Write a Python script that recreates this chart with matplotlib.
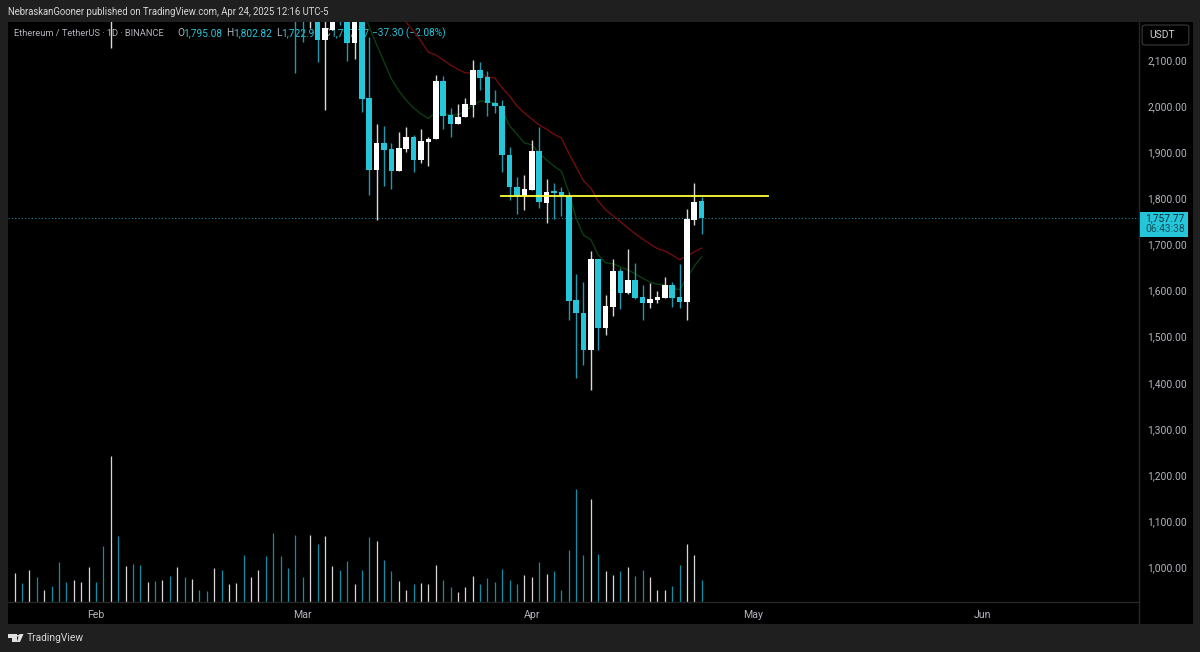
import numpy as np
import pandas as pd
import matplotlib as mp
mp.use('Agg')
import matplotlib.pyplot as pp
import matplotlib.dates as md
from matplotlib.patches import Rectangle, FancyBboxPatch, Polygon, Circle
from matplotlib.ticker import FixedLocator, FuncFormatter

mp.rcParams['font.family'] = ['Roboto', 'DejaVu Sans']

W, H = 1200, 652

dates = pd.date_range('2025-01-21', periods=94)

# 0-47 sit mostly above the visible range, only their lows show
opens = [3215, 3330, 3240, 3340, 3310, 3320, 3230, 3180, 3100, 3130,
         3250, 3300, 3120, 2860, 2880, 2730, 2790, 2690, 2620, 2660,
         2630, 2660, 2600, 2740, 2680, 2725, 2660, 2650, 2740, 2670,
         2770, 2780, 2660, 2760, 2820, 2490, 2420, 2330, 2310, 2230,
         2220, 2515, 2143, 2166, 2240, 2200, 2137, 2200, 2017, 1861,
         1921, 1907, 1860, 1908, 1934, 1883, 1923, 1928, 2054, 1981,
         1962, 1976, 2002, 2078, 2064, 2007, 2001, 1894, 1825, 1806,
         1818, 1903, 1790, 1815, 1814, 1805, 1579, 1551, 1471, 1668,
         1519, 1564, 1642, 1595, 1623, 1586, 1574, 1579, 1584, 1612,
         1586, 1576, 1753, 1795.08]
highs = [3450, 3365, 3350, 3425, 3350, 3340, 3260, 3200, 3180, 3270,
         3430, 3330, 3140, 2920, 2890, 2830, 2860, 2790, 2700, 2690,
         2720, 2690, 2790, 2795, 2740, 2740, 2680, 2760, 2760, 2780,
         2790, 2850, 2770, 2830, 2840, 2530, 2500, 2370, 2330, 2260,
         2550, 2540, 2230, 2280, 2270, 2300, 2230, 2225, 2150, 1961,
         1957, 1921, 1944, 1955, 1937, 1950, 1934, 2067, 2065, 1996,
         2005, 2018, 2101, 2095, 2076, 2035, 2013, 1912, 1847, 1851,
         1926, 1955, 1842, 1833, 1825, 1814, 1636, 1618, 1686, 1668,
         1590, 1668, 1648, 1690, 1659, 1612, 1616, 1598, 1629, 1618,
         1658, 1777, 1833, 1802.82]
lows = [3190, 3200, 3200, 3280, 3290, 3200, 3020, 3050, 3060, 3090,
        3230, 3100, 2760, 2126, 2640, 2700, 2680, 2550, 2600, 2580,
        2600, 2580, 2580, 2650, 2660, 2650, 2640, 2640, 2650, 2660,
        2740, 2650, 2640, 2750, 2450, 2300, 2300, 2240, 2072, 2140,
        2170, 2096, 1992, 2166, 2176, 2098, 2102, 1988, 1808, 1753,
        1827, 1820, 1860, 1901, 1858, 1877, 1871, 1928, 1950, 1934,
        1962, 1976, 1977, 2035, 1979, 1984, 1858, 1796, 1767, 1775,
        1818, 1780, 1747, 1755, 1762, 1536, 1410, 1438, 1384, 1471,
        1503, 1545, 1560, 1592, 1581, 1536, 1563, 1574, 1583, 1565,
        1563, 1536, 1742, 1722.96]
closes = [3330, 3240, 3340, 3310, 3320, 3230, 3180, 3100, 3130, 3250,
          3300, 3120, 2860, 2880, 2730, 2790, 2690, 2620, 2660, 2630,
          2660, 2600, 2740, 2680, 2725, 2660, 2650, 2740, 2670, 2770,
          2780, 2660, 2760, 2820, 2490, 2420, 2330, 2310, 2230, 2220,
          2515, 2143, 2169, 2240, 2200, 2137, 2200, 2015, 1861, 1921,
          1905, 1860, 1910, 1934, 1883, 1924, 1929, 2054, 1979, 1962,
          1977, 2004, 2078, 2062, 2006, 2000, 1893, 1825, 1806, 1820,
          1903, 1791, 1814, 1812, 1806, 1577, 1551, 1471, 1668, 1519,
          1566, 1642, 1595, 1623, 1584, 1574, 1581, 1586, 1612, 1584,
          1576, 1755, 1792, 1757.77]

# volume has no scale on the chart, units are arbitrary
volumes = [290, 190, 323, 247, 117, 157, 397, 197, 223, 200,
           350, 197, 557, 1457, 663, 363, 383, 373, 203, 213,
           223, 263, 350, 247, 230, 117, 110, 340, 323, 183,
           190, 470, 247, 323, 463, 690, 463, 340, 673, 247,
           670, 583, 663, 363, 317, 413, 183, 323, 650, 613,
           423, 310, 207, 117, 180, 190, 180, 373, 223, 150,
           103, 150, 263, 180, 237, 197, 333, 223, 180, 270,
           247, 397, 277, 310, 117, 517, 1130, 470, 1030, 483,
           310, 270, 310, 350, 263, 323, 247, 117, 123, 157,
           373, 583, 470, 223]

# moving averages, starting where they come into view
green_start = 47
green_ma = [2219, 2172, 2133, 2096, 2059, 2033, 2013, 1996, 1983, 1973,
            1987, 1983, 1981, 1981, 1989, 2002, 2011, 2009, 2007, 1992,
            1957, 1939, 1920, 1916, 1898, 1883, 1870, 1859, 1814, 1757,
            1720, 1710, 1677, 1660, 1658, 1651, 1645, 1636, 1627, 1618,
            1614, 1612, 1605, 1602, 1627, 1653, 1673]
red_start = 52
red_ma = [2200, 2182, 2163, 2141, 2117, 2111, 2100, 2089, 2080, 2072,
          2072, 2070, 2063, 2061, 2039, 2022, 2000, 1985, 1972, 1959,
          1950, 1939, 1931, 1898, 1868, 1838, 1822, 1794, 1775, 1762,
          1749, 1736, 1723, 1712, 1701, 1691, 1686, 1677, 1667, 1675,
          1684, 1692]

price_ticks = [1000, 1100, 1200, 1300, 1400, 1500, 1600, 1700, 1800, 1900, 2000, 2100]
last_price = 1757.77
level_price = 1805
level_dates = ['2025-03-27 20:00', '2025-05-03 00:00']

header = 'NebraskanGooner published on TradingView.com, Apr 24, 2025 12:16 UTC-5'

up_clr = '#ffffff'
dn_clr = '#26c6da'
frame = '#1f1f1f'
lab = '#b2b5be'

x = md.date2num(dates)
o = np.array(opens)
h = np.array(highs)
l = np.array(lows)
c = np.array(closes)
up = c >= o
clrs = [up_clr if u else dn_clr for u in up]
wick_clrs = ['#d8d8d8' if u else '#1f9aac' for u in up]
vol_clrs = ['#d8d8d8' if u else '#0f8fa3' for u in up]


def box(x0, y0, x1, y1):
    return [x0 / W, 1 - y1 / H, (x1 - x0) / W, (y1 - y0) / H]


def fx(px):
    return px / W


def fy(px):
    return 1 - px / H


fig = pp.figure(figsize=(12, 6.52), dpi=100, facecolor=frame)

# volume goes in its own axes under the candles
axv = fig.add_axes(box(8, 22, 1139, 602), facecolor='black', zorder=0)
ax = fig.add_axes(box(8, 22, 1139, 602), zorder=2)
ax.patch.set_visible(False)
axt = fig.add_axes(box(8, 602, 1139, 623.5), facecolor='black', zorder=1)
axp = fig.add_axes(box(1139, 22, 1192.5, 623.5), facecolor='black', zorder=1)
axp.set_xticks([])
axp.set_yticks([])

xlim = (x[0] - 0.907, x[0] + 152.2)
ax.set_xlim(xlim)
axv.set_xlim(xlim)
axt.set_xlim(xlim)
ax.set_ylim(924.4, 2182.4)
axv.set_ylim(0, 5800)

axv.vlines(x, 0, volumes, colors=vol_clrs, lw=0.9)
axv.set_xticks([])
axv.set_yticks([])

ax.axhline(last_price, color='#1b8494', lw=0.8, ls=(0, (1, 2)), zorder=2)
ax.plot(x[green_start:green_start + len(green_ma)], green_ma, color='#0c3d10', lw=1.0, zorder=2)
ax.plot(x[red_start:red_start + len(red_ma)], red_ma, color='#6e0d0d', lw=1.0, zorder=2)

ax.vlines(x, l, h, colors=wick_clrs, lw=1.0, zorder=3)
ax.bar(x, np.abs(c - o), bottom=np.minimum(o, c), width=0.76, color=clrs, linewidth=0, zorder=4)

ax.plot(pd.to_datetime(level_dates), [level_price, level_price], color='#ffff3b', lw=1.3, zorder=5)

ax.set_xticks([])
ax.yaxis.tick_right()
ax.yaxis.set_major_locator(FixedLocator(price_ticks))
ax.yaxis.set_major_formatter(FuncFormatter(lambda v, pos: '{:,.2f}'.format(v)))
ax.tick_params(axis='y', length=0, pad=6, labelsize=7.4, labelcolor=lab)

axt.set_yticks([])
axt.xaxis.set_major_locator(md.MonthLocator())
axt.xaxis.set_major_formatter(md.DateFormatter('%b'))
axt.tick_params(axis='x', length=0, labelsize=7.6, labelcolor=lab, pad=-9.5)

for a in (ax, axv, axt, axp):
    for s in a.spines.values():
        s.set_visible(False)
for a, s in ((axt, 'top'), (axp, 'left')):
    a.spines[s].set_visible(True)
    a.spines[s].set_color('#262626')
    a.spines[s].set_linewidth(1)

# header and symbol legend, the candles run over this text
fig.text(fx(8), fy(12), header, color='#d6d6d6', fontsize=6.87, va='center')

legend_txt = [
    (14, 'Ethereum / TetherUS · 1D · BINANCE', lab, 6.7),
    (177.5, 'O', lab, 7.3),
    (183.5, '1,795.08', dn_clr, 7.3),
    (226.5, 'H', lab, 7.3),
    (233, '1,802.82', dn_clr, 7.3),
    (276, 'L', lab, 7.3),
    (281.5, '1,722.96', dn_clr, 7.3),
    (323.5, 'C', lab, 7.3),
    (330, '1,757.77', dn_clr, 7.3),
    (372, '\u221237.30 (\u22122.08%)', dn_clr, 7.3),
]
for px, s, col, fs in legend_txt:
    ax.text(fx(px), fy(33.5), s, color=col, fontsize=fs, va='center',
            transform=fig.transFigure, zorder=1)

# USDT button
fig.add_artist(FancyBboxPatch((fx(1144), fy(44)), (1187 - 1144) / W, 18 / H,
                              boxstyle='round,pad=0.0015,rounding_size=0.003',
                              transform=fig.transFigure, fc='black', ec='#3a3a3a', lw=0.8, zorder=5))
fig.text(fx(1149.5), fy(35.5), 'USDT', color='#d0d0d0', fontsize=7.4, va='center', zorder=6)

# last price tag
fig.add_artist(Rectangle((fx(1139.5), fy(236.5)), 48.3 / W, 24.5 / H, transform=fig.transFigure,
                         fc=dn_clr, ec='none', zorder=5))
fig.text(fx(1165), fy(218), '{:,.2f}'.format(last_price), color='#0b2f36', fontsize=7.4,
         ha='center', va='center', zorder=6)
fig.text(fx(1165), fy(229.5), '06:43:38', color='#0d4f5a', fontsize=7.4,
         ha='center', va='center', zorder=6)

# TradingView mark
logo_clr = '#e0e0e0'
fig.add_artist(Polygon([(fx(8), fy(634)), (fx(16.5), fy(634)), (fx(16.5), fy(642)),
                        (fx(12), fy(642)), (fx(12), fy(637.5)), (fx(8), fy(637.5))],
                       transform=fig.transFigure, fc=logo_clr, ec='none'))
fig.add_artist(Polygon([(fx(19.5), fy(634)), (fx(23.5), fy(634)), (fx(20), fy(642)), (fx(16.8), fy(642))],
                       transform=fig.transFigure, fc=logo_clr, ec='none'))
fig.add_artist(Circle((fx(18.3), fy(635.8)), 1.7 / W, transform=fig.transFigure, fc=logo_clr, ec='none'))
fig.text(fx(26.5), fy(638), 'TradingView', color='#d6d6d6', fontsize=7.4, va='center')

fig.savefig('out.png', dpi=100, facecolor=frame)
